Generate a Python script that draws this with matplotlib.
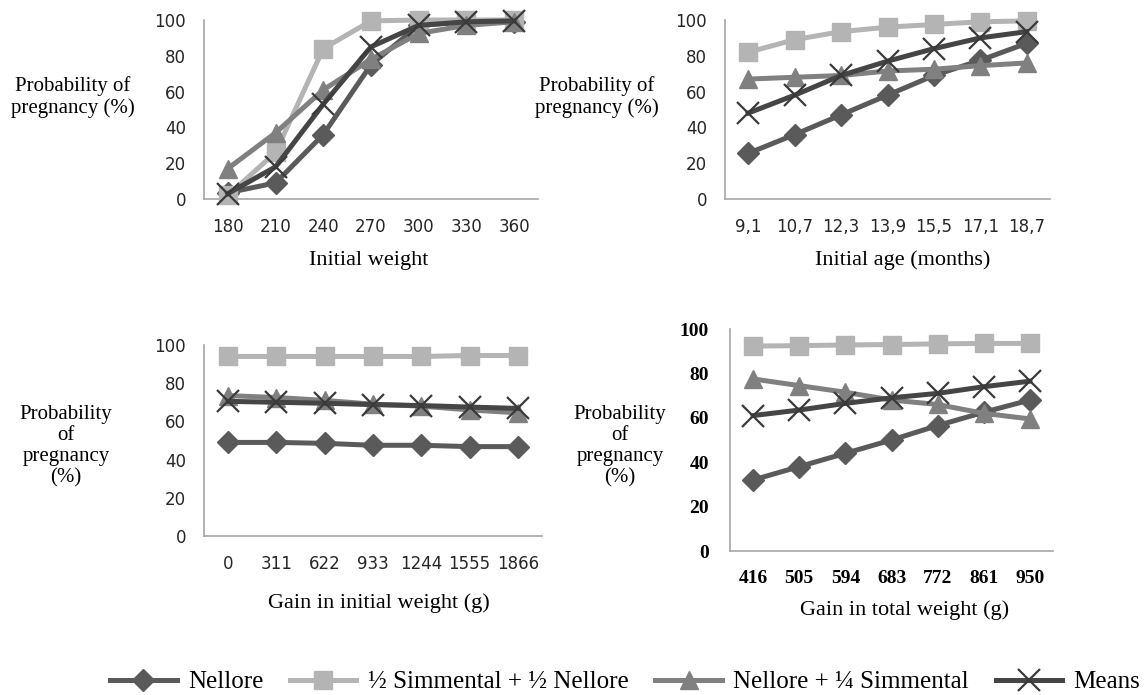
import matplotlib
matplotlib.use("Agg")
import matplotlib.pyplot as plt

# ---------------- data ----------------
series_names = ["Nellore", "½ Simmental + ½ Nellore", "Nellore + ¼ Simmental", "Means"]

weight_ticks = ["180", "210", "240", "270", "300", "330", "360"]
weight_nellore = [3.5, 9, 36, 75, 97, 99, 99]
weight_simm = [2, 26, 84, 99.5, 100, 100, 100]
weight_quarter = [17, 37, 61, 78, 92.5, 97, 99]
weight_means = [3, 18, 53, 85, 97, 99, 99.5]

age_ticks = ["9,1", "10,7", "12,3", "13,9", "15,5", "17,1", "18,7"]
age_nellore = [25.5, 36, 47, 58, 69, 77.5, 87]
age_simm = [82, 89, 93.5, 96, 97.5, 99, 99.5]
age_quarter = [67, 68, 69, 71.5, 72.5, 74.5, 76]
age_means = [48, 58, 69, 77, 84, 90, 93.5]

gi_ticks = ["0", "311", "622", "933", "1244", "1555", "1866"]
gi_nellore = [49, 49, 48.5, 47.5, 47.5, 46.8, 46.8]
gi_simm = [94, 94, 94, 94, 94, 94.5, 94.5]
gi_quarter = [73.5, 72.5, 71, 69, 68, 66, 64.5]
gi_means = [70.5, 70, 69.5, 68.8, 68.3, 67.5, 66.8]

gt_ticks = ["416", "505", "594", "683", "772", "861", "950"]
gt_nellore = [32, 38, 44, 50, 56.5, 62.5, 68]
gt_simm = [92.3, 92.5, 92.8, 93, 93.3, 93.5, 93.5]
gt_quarter = [77.5, 74.5, 71.5, 68, 66, 62, 59.5]
gt_means = [61, 63.5, 66.5, 69, 71, 74, 76.5]

y_ticks = [0, 20, 40, 60, 80, 100]

# ---------------- style ----------------
colors = ["#5a5a5a", "#b4b4b4", "#808080", "#454545"]
markers = ["D", "s", "^", "x"]
msizes = [11, 13.5, 13.5, 16]

serif = ["Liberation Serif", "DejaVu Serif"]

fig = plt.figure(figsize=(11.46, 6.95), dpi=100)
W, H = 1146, 695


def make_ax(left, right, top_px, bottom_px):
    return fig.add_axes([left / W, 1 - bottom_px / H, (right - left) / W, (bottom_px - top_px) / H])


panels = [
    dict(box=(204, 538, 20, 199), ticks=weight_ticks,
         data=[weight_nellore, weight_simm, weight_quarter, weight_means],
         xlabel="Initial weight", ylabel="Probability of\npregnancy (%)",
         ylab_pos=(73, 97), xlab_pos=(369, 260), bold=False),
    dict(box=(725, 1050, 20, 199), ticks=age_ticks,
         data=[age_nellore, age_simm, age_quarter, age_means],
         xlabel="Initial age (months)", ylabel="Probability of\npregnancy (%)",
         ylab_pos=(597, 97), xlab_pos=(903, 260), bold=False),
    dict(box=(204, 542, 345, 536), ticks=gi_ticks,
         data=[gi_nellore, gi_simm, gi_quarter, gi_means],
         xlabel="Gain in initial weight (g)", ylabel="Probability\nof\npregnancy\n(%)",
         ylab_pos=(66, 446), xlab_pos=(379, 603), bold=False),
    dict(box=(730, 1053, 329, 551), ticks=gt_ticks,
         data=[gt_nellore, gt_simm, gt_quarter, gt_means],
         xlabel="Gain in total weight (g)", ylabel="Probability\nof\npregnancy\n(%)",
         ylab_pos=(620, 446), xlab_pos=(905, 610), bold=True),
]

handles = None
for p in panels:
    l, r, t, b = p["box"]
    ax = make_ax(l, r, t, b)
    x = list(range(len(p["ticks"])))
    hs = []
    for i, vals in enumerate(p["data"]):
        if markers[i] == "x":
            h, = ax.plot(x, vals, color=colors[i], lw=3.6, marker="x", ms=msizes[i],
                         mew=1.6, mec="#3a3a3a", zorder=5 + i)
        else:
            h, = ax.plot(x, vals, color=colors[i], lw=3.6, marker=markers[i], ms=msizes[i],
                         mec=colors[i], mfc=colors[i], zorder=3 + i)
        h.set_clip_on(False)
        hs.append(h)
    handles = hs
    ax.set_xlim(-0.5, len(x) - 0.5)
    ax.set_ylim(0, 100)
    ax.set_yticks(y_ticks)
    ax.set_xticks(x)
    ylabels = [str(v) for v in y_ticks]
    if p["bold"]:
        ax.set_xticklabels(p["ticks"], fontfamily=serif, fontweight="bold", fontsize=14)
        ax.set_yticklabels(ylabels, fontfamily=serif, fontweight="bold", fontsize=14)
        ax.tick_params(axis="x", pad=14)
        ax.tick_params(axis="y", pad=15)
    else:
        ax.set_xticklabels(p["ticks"], fontsize=12, color="#262626")
        ax.set_yticklabels(ylabels, fontsize=12, color="#262626")
        ax.tick_params(axis="x", pad=14)
        ax.tick_params(axis="y", pad=13)
    ax.tick_params(axis="both", length=0)
    for s in ["top", "right"]:
        ax.spines[s].set_visible(False)
    for s in ["left", "bottom"]:
        ax.spines[s].set_color("#a6a6a6")
        ax.spines[s].set_linewidth(1.2)
    fig.text(p["xlab_pos"][0] / W, 1 - p["xlab_pos"][1] / H, p["xlabel"], ha="center",
             va="center", fontfamily=serif, fontsize=16)
    fig.text(p["ylab_pos"][0] / W, 1 - p["ylab_pos"][1] / H, p["ylabel"], ha="center",
             va="center", fontfamily=serif, fontsize=15, linespacing=1.15)

fig.legend(handles, series_names, loc="center", bbox_to_anchor=(625 / W, 1 - 682 / H),
           ncol=4, frameon=False, prop={"family": serif, "size": 18},
           handlelength=2.65, columnspacing=1.08, handletextpad=0.45, borderpad=0.2)

fig.savefig("out.png", dpi=100, facecolor="white")
